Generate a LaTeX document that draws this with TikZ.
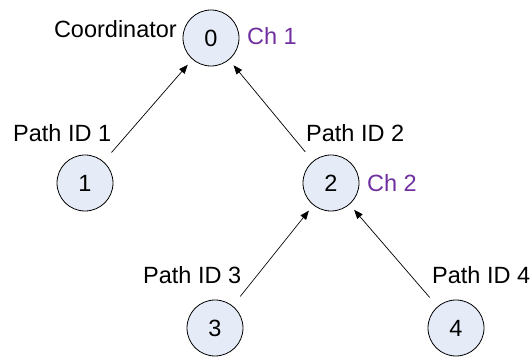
\documentclass[tikz,border=0pt]{standalone}
\usepackage{fontspec}
\setmainfont{Liberation Sans}
\usetikzlibrary{arrows.meta}
\definecolor{nodefill}{RGB}{230,236,247}
\definecolor{chpurple}{RGB}{112,48,160}
\begin{document}
\begin{tikzpicture}[x=1pt,y=-1pt,
  every node/.style={font=\fontsize{23.5}{28}\selectfont, inner sep=0pt},
  treenode/.style={circle, draw=black, line width=0.8pt, fill=nodefill, minimum size=56pt},
  lbl/.style={anchor=base west, text=black},
  chlbl/.style={anchor=base west, text=chpurple},
  link/.style={draw=black, line width=0.7pt, -{Triangle[length=9pt,width=7pt]}, shorten <=12pt, shorten >=7pt}]
  \useasboundingbox[fill=white] (0,0) rectangle (531,358);
  \node[treenode] (n0) at (211,38) {0};
  \node[treenode] (n1) at (85,183) {1};
  \node[treenode] (n2) at (331,183) {2};
  \node[treenode] (n3) at (215,328) {3};
  \node[treenode] (n4) at (456,328) {4};
  \node[anchor=base east] (coord) at (177,38) {Coordinator};
  \node[chlbl] (ch1) at (247,45) {Ch 1};
  \node[chlbl] (ch2) at (367,192) {Ch 2};
  \node[lbl] (p1) at (13,142) {Path ID 1};
  \node[lbl] (p2) at (306,142) {Path ID 2};
  \node[lbl] (p3) at (143,284) {Path ID 3};
  \node[lbl] (p4) at (432,284) {Path ID 4};
  \draw[link] (n1) -- (n0);
  \draw[link] (n2) -- (n0);
  \draw[link] (n3) -- (n2);
  \draw[link] (n4) -- (n2);
\end{tikzpicture}
\end{document}
